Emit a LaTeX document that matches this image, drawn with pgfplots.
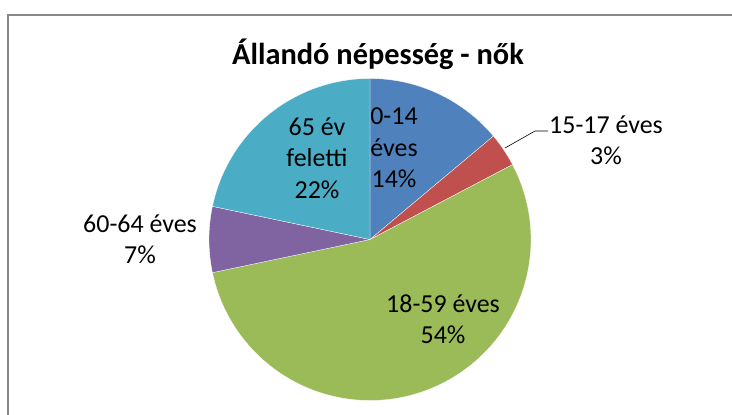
\documentclass[border=0pt]{standalone}
\usepackage{pgfplots}
\usepackage{pgfplotstable}
\pgfplotsset{compat=1.18}
\usepackage{fontspec}
\setmainfont{Carlito}
\definecolor{cA}{HTML}{4F81BD}
\definecolor{cB}{HTML}{C0504D}
\definecolor{cC}{HTML}{9BBB59}
\definecolor{cD}{HTML}{8064A2}
\definecolor{cE}{HTML}{4BACC6}
\definecolor{frame}{HTML}{868686}
\pgfplotstableread{
grp v
a 13.9
b 3.4
c 54.4
d 6.6
e 21.7
}\piedata
\begin{document}
\begin{tikzpicture}
\pgfplotstablegetelem{0}{v}\of\piedata\let\va\pgfplotsretval
\pgfplotstablegetelem{1}{v}\of\piedata\let\vb\pgfplotsretval
\pgfplotstablegetelem{2}{v}\of\piedata\let\vc\pgfplotsretval
\pgfplotstablegetelem{3}{v}\of\piedata\let\vd\pgfplotsretval
\pgfplotstablegetelem{4}{v}\of\piedata\let\ve\pgfplotsretval
\pgfmathsetmacro\aA{90}
\pgfmathsetmacro\aB{90-3.6*\va}
\pgfmathsetmacro\aC{90-3.6*(\va+\vb)}
\pgfmathsetmacro\aD{90-3.6*(\va+\vb+\vc)}
\pgfmathsetmacro\aE{90-3.6*(\va+\vb+\vc+\vd)}
\pgfmathsetmacro\aF{90-3.6*(\va+\vb+\vc+\vd+\ve)}
\def\cx{370}\def\cy{175.5}\def\rr{161}
\begin{axis}[
  scale only axis, width=732bp, height=415bp,
  xmin=0, xmax=732, ymin=0, ymax=415,
  hide axis, clip=false,
]
\draw[frame, line width=2bp] (axis cs:7.7,-20) -- (axis cs:7.7,399.5) -- (axis cs:760,399.5);
\addplot[fill=cA, draw=white, line width=0.3pt, domain=\aB:\aA, samples=60, variable=\t]
  ({\cx+\rr*cos(\t)},{\cy+\rr*sin(\t)}) -- (axis cs:\cx,\cy) -- cycle;
\addplot[fill=cB, draw=white, line width=0.3pt, domain=\aC:\aB, samples=20, variable=\t]
  ({\cx+\rr*cos(\t)},{\cy+\rr*sin(\t)}) -- (axis cs:\cx,\cy) -- cycle;
\addplot[fill=cC, draw=white, line width=0.3pt, domain=\aD:\aC, samples=150, variable=\t]
  ({\cx+\rr*cos(\t)},{\cy+\rr*sin(\t)}) -- (axis cs:\cx,\cy) -- cycle;
\addplot[fill=cD, draw=white, line width=0.3pt, domain=\aE:\aD, samples=30, variable=\t]
  ({\cx+\rr*cos(\t)},{\cy+\rr*sin(\t)}) -- (axis cs:\cx,\cy) -- cycle;
\addplot[fill=cE, draw=white, line width=0.3pt, domain=\aF:\aE, samples=80, variable=\t]
  ({\cx+\rr*cos(\t)},{\cy+\rr*sin(\t)}) -- (axis cs:\cx,\cy) -- cycle;
\draw[black, line width=0.6pt] (axis cs:505,267) -- (axis cs:535,284) -- (axis cs:548,284);
\node[anchor=base, font=\fontsize{30.5}{36}\selectfont\bfseries] at (axis cs:378,350) {Állandó népesség - nők};
\tikzset{lbl/.style={align=center, inner sep=0pt, font=\fontsize{26}{31.5}\selectfont}}
\node[lbl] at (axis cs:394,267) {0-14\\éves\\14\%};
\node[lbl] at (axis cs:317,257) {65 év\\feletti\\22\%};
\node[lbl] at (axis cs:443,96) {18-59 éves\\54\%};
\node[lbl] at (axis cs:606,275) {15-17 éves\\3\%};
\node[lbl] at (axis cs:140,176) {60-64 éves\\7\%};
\end{axis}
\pgfresetboundingbox
\path[use as bounding box] (0,0) rectangle (732bp,415bp);
\end{tikzpicture}
\end{document}
